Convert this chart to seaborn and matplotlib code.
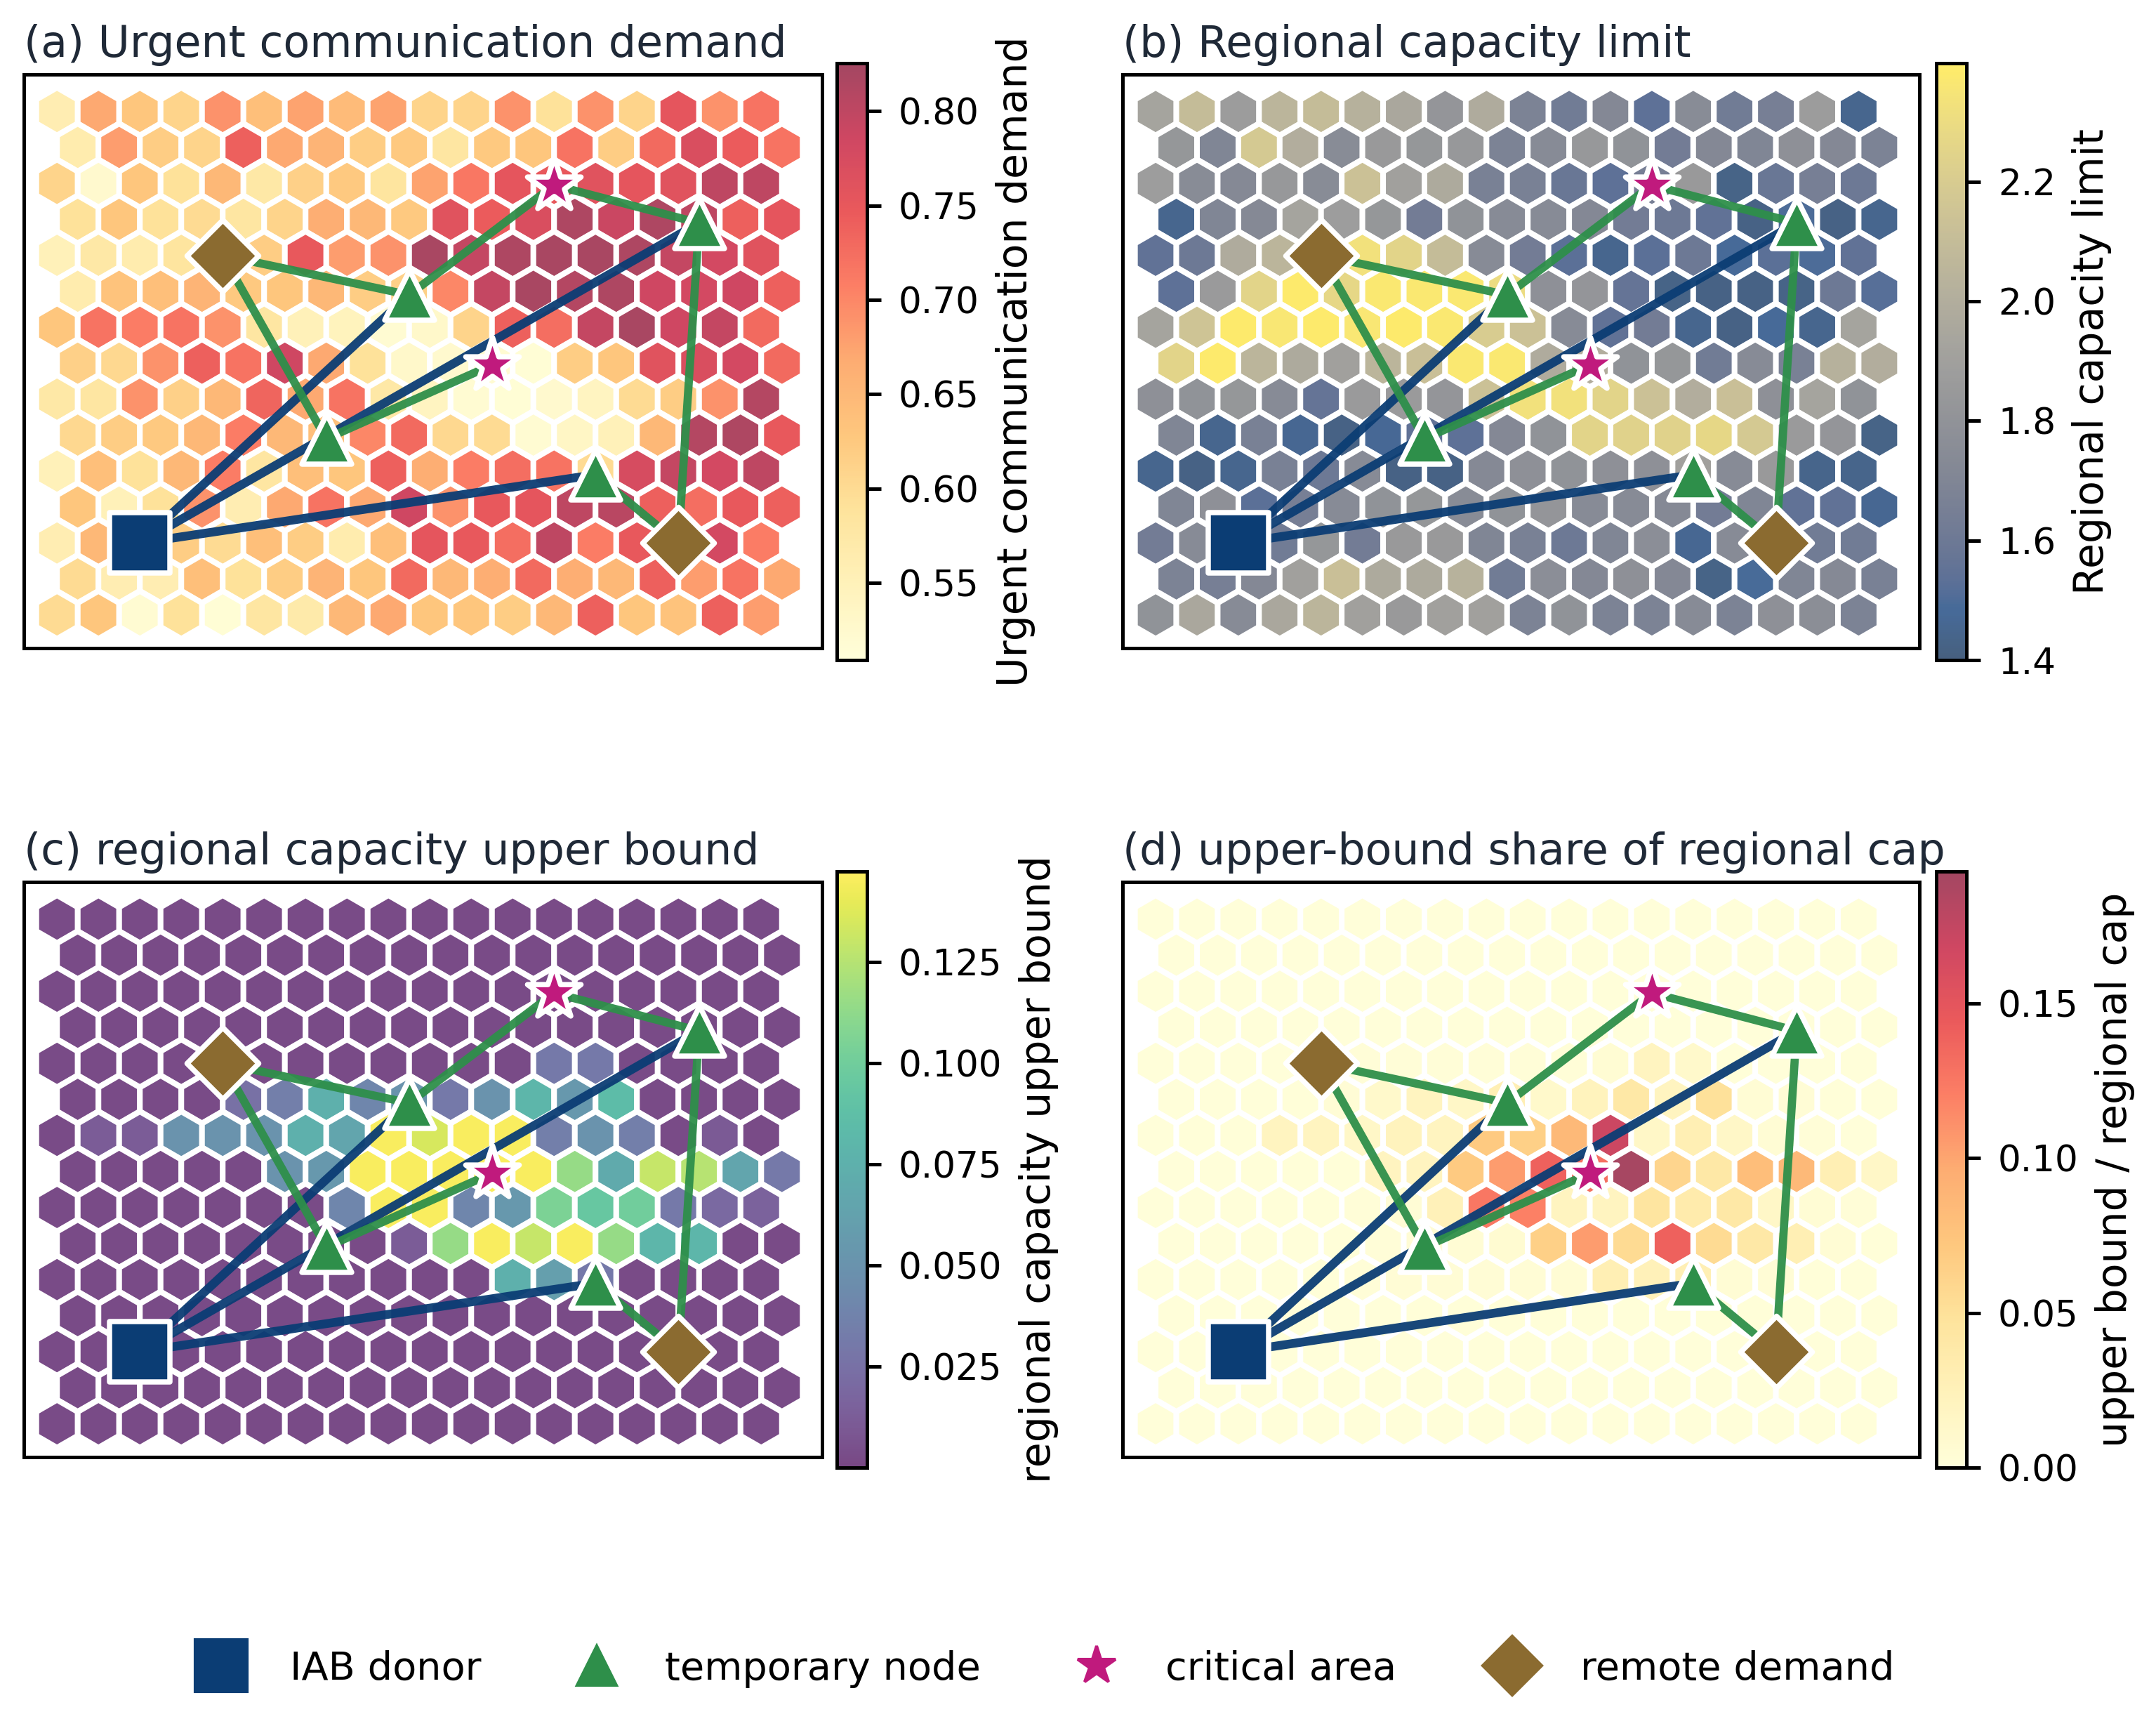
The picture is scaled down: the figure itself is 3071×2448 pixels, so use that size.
import numpy as np
import pandas as pd
import seaborn as sns
import matplotlib
matplotlib.use("Agg")
import matplotlib.pyplot as plt
from matplotlib.cm import ScalarMappable
from matplotlib.colors import ListedColormap, Normalize
from matplotlib.lines import Line2D

demand_rows = [
    [.56,.67,.63,.61,.69,.64,.675,.645,.675,.61,.61,.69,.59,.69,.61,.755,.69,.72],
    [.565,.68,.62,.61,.74,.67,.655,.62,.625,.58,.625,.63,.72,.62,.73,.77,.745,.72],
    [.61,.525,.63,.59,.65,.575,.615,.625,.585,.675,.715,.755,.75,.76,.755,.76,.80,.80],
    [.59,.63,.59,.60,.58,.61,.665,.65,.625,.76,.745,.77,.815,.79,.815,.80,.74,.755],
    [.55,.575,.565,.585,.60,.62,.75,.68,.69,.82,.795,.815,.82,.82,.815,.795,.78,.76],
    [.565,.635,.64,.655,.625,.63,.65,.62,.615,.70,.795,.82,.81,.815,.785,.78,.785,.74],
    [.63,.72,.71,.72,.69,.58,.55,.545,.52,.53,.61,.74,.725,.795,.82,.785,.795,.73],
    [.615,.605,.69,.74,.72,.785,.67,.59,.53,.525,.52,.515,.62,.63,.76,.77,.78,.73],
    [.575,.58,.69,.615,.65,.735,.67,.72,.575,.54,.52,.515,.525,.54,.60,.62,.69,.81],
    [.605,.62,.625,.65,.71,.65,.64,.70,.73,.605,.60,.52,.535,.55,.65,.81,.815,.75],
    [.55,.64,.59,.65,.71,.58,.64,.63,.74,.665,.71,.725,.72,.60,.775,.795,.78,.80],
    [.63,.55,.59,.69,.56,.67,.72,.67,.785,.69,.75,.755,.80,.805,.74,.725,.75,.74],
    [.56,.65,.60,.62,.60,.64,.62,.565,.64,.755,.75,.725,.80,.71,.75,.75,.78,.71],
    [.60,.56,.56,.64,.59,.62,.655,.63,.73,.65,.665,.73,.665,.65,.74,.68,.72,.67],
    [.60,.63,.52,.59,.515,.58,.57,.65,.67,.63,.63,.62,.65,.74,.63,.635,.74,.68],
]
capacity_rows = [
    [1.93,2.1,1.87,2.05,2.1,2.02,1.95,1.82,1.98,1.68,1.62,1.72,1.54,1.75,1.62,1.65,1.87,1.45],
    [1.83,1.7,2.18,2.0,1.75,1.85,1.83,1.84,1.68,1.74,1.84,1.8,1.63,1.72,1.7,1.78,1.72,1.68],
    [1.88,1.75,1.73,1.84,1.75,2.13,1.9,1.97,1.66,1.66,1.58,1.54,1.65,1.85,1.43,1.58,1.65,1.6],
    [1.45,1.7,1.73,1.93,1.88,1.83,1.63,1.8,1.74,1.74,1.72,1.63,1.6,1.55,1.42,1.5,1.42,1.45],
    [1.55,1.6,1.98,2.05,2.15,2.33,2.25,2.1,1.74,1.63,1.53,1.45,1.53,1.6,1.48,1.53,1.5,1.55],
    [1.54,1.86,2.25,2.38,2.27,2.37,2.37,2.37,2.3,1.78,1.82,1.56,1.43,1.42,1.42,1.43,1.6,1.52],
    [1.93,2.15,2.38,2.36,2.38,2.36,2.38,2.37,2.2,2.13,1.74,1.55,1.63,1.45,1.42,1.48,1.45,1.93],
    [2.25,2.38,2.05,1.97,1.9,2.05,2.12,2.37,2.37,1.98,2.0,1.8,1.83,1.62,1.74,1.66,2.02,2.0],
    [1.78,1.8,1.83,1.74,1.56,1.86,1.86,1.82,2.13,2.33,2.33,2.25,2.13,2.0,2.12,1.78,1.93,1.8],
    [1.7,1.45,1.66,1.46,1.42,1.47,1.55,1.54,1.72,1.8,2.25,2.24,2.24,2.27,2.18,1.86,1.82,1.43],
    [1.45,1.42,1.45,1.66,1.6,1.74,1.42,1.42,1.73,1.78,1.8,1.78,1.78,1.9,1.74,1.85,1.44,1.44],
    [1.7,1.78,1.53,1.65,1.74,1.8,1.83,1.75,1.8,1.82,1.74,1.74,1.73,1.63,1.7,1.55,1.55,1.46],
    [1.63,1.74,1.6,1.62,1.83,1.63,1.85,1.85,1.7,1.66,1.6,1.7,1.77,1.46,1.74,1.6,1.62,1.62],
    [1.68,1.65,1.72,1.9,2.12,1.97,1.97,2.03,1.62,1.77,1.72,1.78,1.72,1.43,1.49,1.7,1.73,1.66],
    [1.8,1.95,1.74,1.95,2.05,1.9,1.85,1.9,1.9,1.68,1.8,1.68,1.68,1.74,1.68,1.78,1.76,1.68],
]
upper_rows = [
    [.002,.002,.002,.002,.002,.002,.002,.002,.002,.002,.002,.002,.002,.002,.002,.002,.002,.002],
    [.002,.002,.002,.002,.002,.002,.002,.002,.002,.002,.002,.002,.002,.002,.002,.002,.002,.002],
    [.002,.002,.002,.002,.002,.002,.002,.002,.002,.002,.002,.002,.002,.002,.002,.002,.002,.002],
    [.002,.002,.002,.002,.002,.002,.002,.002,.002,.002,.002,.002,.002,.002,.002,.002,.002,.002],
    [.002,.002,.002,.002,.002,.002,.002,.002,.002,.002,.002,.002,.03,.03,.002,.002,.002,.002],
    [.002,.002,.002,.002,.025,.035,.075,.04,.05,.03,.05,.08,.055,.085,.002,.002,.002,.002],
    [.002,.012,.012,.05,.05,.05,.075,.065,.146,.135,.146,.146,.035,.05,.035,.002,.01,.002],
    [.002,.002,.002,.002,.002,.05,.055,.146,.146,.146,.146,.146,.115,.07,.13,.125,.065,.03],
    [.002,.002,.002,.002,.002,.002,.002,.04,.146,.146,.04,.055,.105,.095,.1,.03,.02,.015],
    [.002,.002,.002,.002,.002,.002,.002,.002,.012,.115,.146,.13,.146,.115,.08,.08,.002,.002],
    [.002,.002,.002,.002,.002,.002,.002,.002,.002,.002,.002,.075,.06,.03,.002,.002,.002,.002],
    [.002,.002,.002,.002,.002,.002,.002,.002,.002,.002,.002,.002,.002,.002,.002,.002,.002,.002],
    [.002,.002,.002,.002,.002,.002,.002,.002,.002,.002,.002,.002,.002,.002,.002,.002,.002,.002],
    [.002,.002,.002,.002,.002,.002,.002,.002,.002,.002,.002,.002,.002,.002,.002,.002,.002,.002],
    [.002,.002,.002,.002,.002,.002,.002,.002,.002,.002,.002,.002,.002,.002,.002,.002,.002,.002],
]
share_rows = [
    [.001,.001,.001,.001,.001,.001,.001,.001,.001,.001,.001,.001,.001,.001,.001,.001,.001,.001],
    [.001,.001,.001,.001,.001,.001,.001,.001,.001,.001,.001,.001,.001,.001,.001,.001,.001,.001],
    [.001,.001,.001,.001,.001,.001,.001,.001,.001,.001,.001,.001,.001,.001,.001,.001,.001,.001],
    [.001,.001,.001,.001,.001,.001,.001,.001,.001,.001,.001,.001,.001,.001,.001,.001,.001,.001],
    [.001,.001,.001,.001,.001,.003,.003,.003,.003,.003,.003,.006,.02,.012,.002,.001,.001,.001],
    [.001,.001,.001,.002,.004,.012,.02,.015,.03,.012,.022,.04,.02,.05,.005,.004,.002,.001],
    [.001,.002,.002,.02,.02,.015,.022,.02,.07,.065,.085,.17,.015,.03,.015,.005,.003,.001],
    [.001,.001,.002,.002,.002,.02,.02,.07,.105,.14,.13,.19,.06,.04,.08,.085,.03,.015],
    [.001,.001,.001,.002,.002,.003,.004,.025,.125,.12,.02,.02,.045,.035,.04,.015,.005,.003],
    [.001,.001,.001,.001,.002,.003,.004,.005,.007,.065,.105,.055,.14,.055,.04,.03,.005,.002],
    [.001,.001,.001,.001,.002,.003,.004,.004,.004,.004,.005,.03,.025,.03,.005,.004,.002,.001],
    [.001,.001,.001,.001,.001,.001,.002,.002,.002,.002,.002,.002,.002,.002,.002,.001,.001,.001],
    [.001,.001,.001,.001,.001,.001,.001,.001,.001,.001,.001,.001,.001,.001,.001,.001,.001,.001],
    [.001,.001,.001,.001,.001,.001,.001,.001,.001,.001,.001,.001,.001,.001,.001,.001,.001,.001],
    [.001,.001,.001,.001,.001,.001,.001,.001,.001,.001,.001,.001,.001,.001,.001,.001,.001,.001],
]

panel_titles = ["(a) Urgent communication demand", "(b) Regional capacity limit",
                "(c) regional capacity upper bound", "(d) upper-bound share of regional cap"]
cbar_labels = ["Urgent communication demand", "Regional capacity limit",
               "regional capacity upper bound", "upper bound / regional cap"]
cmaps = ["YlOrRd", "cividis", "viridis", "YlOrRd"]
ranges = [(0.509, 0.8255), (1.4, 2.398), (0.0, 0.1474), (0.0, 0.1927)]
cbar_ticks = [[0.55, 0.60, 0.65, 0.70, 0.75, 0.80],
              [1.4, 1.6, 1.8, 2.0, 2.2],
              [0.025, 0.050, 0.075, 0.100, 0.125],
              [0.00, 0.05, 0.10, 0.15]]
cbar_ticklabels = [["0.55", "0.60", "0.65", "0.70", "0.75", "0.80"],
                   ["1.4", "1.6", "1.8", "2.0", "2.2"],
                   ["0.025", "0.050", "0.075", "0.100", "0.125"],
                   ["0.00", "0.05", "0.10", "0.15"]]

# nodes in grid units (column, row)
donor_x, donor_y = [2.0], [12.0]
temp_x, temp_y = [6.5, 8.5, 15.5, 13.0], [9.1, 5.1, 3.1, 10.1]
crit_x, crit_y = [12.0, 10.5], [2.05, 7.05]
remote_x, remote_y = [4.0, 15.0], [4.0, 12.0]

blue_links = [((2, 12), (15.5, 3.1)), ((2, 12), (8.5, 5.1)), ((2, 12), (13, 10.1))]
green_links = [((4, 4), (8.5, 5.1)), ((4, 4), (6.5, 9.1)), ((6.5, 9.1), (10.5, 7.05)),
               ((8.5, 5.1), (12, 2.05)), ((12, 2.05), (15.5, 3.1)),
               ((15.5, 3.1), (15, 12)), ((13, 10.1), (15, 12))]

NAVY = "#0b3d74"
GREEN = "#2e8f4a"
MAGENTA = "#c01a7d"
BROWN = "#8b6b30"
TITLE_COLOR = "#1f2937"
ROW_H = np.sqrt(3) / 2

W, H = 3071, 2448
sns.set_theme(style="white", rc={"font.family": "DejaVu Sans"})
fig = plt.figure(figsize=(W / 300, H / 300), dpi=300)


def add_px(x0, y0, x1, y1):
    return fig.add_axes([x0 / W, 1 - y1 / H, (x1 - x0) / W, (y1 - y0) / H])


axes_px = [(34, 106, 1171, 923), (1599, 106, 2734, 923), (34, 1256, 1171, 2075), (1599, 1256, 2734, 2075)]
cbar_px = [(1192, 90, 1235, 940), (2758, 90, 2801, 940), (1192, 1241, 1235, 2090), (2758, 1241, 2801, 2090)]

panels = [demand_rows, capacity_rows, upper_rows, share_rows]
for i in range(4):
    ax = add_px(*axes_px[i])
    rows = []
    for r, vals in enumerate(panels[i]):
        for c, v in enumerate(vals):
            rows.append({"x": c + 0.5 * (r % 2), "y": -r * ROW_H, "v": v})
    df = pd.DataFrame(rows)

    base = plt.get_cmap(cmaps[i])(np.linspace(0, 1, 256))
    base[:, 3] = 0.72
    cmap = ListedColormap(base)
    sns.scatterplot(data=df, x="x", y="y", hue="v", palette=cmap, hue_norm=ranges[i], marker="h",
                    s=266, edgecolor="white", linewidth=1.9, legend=False, ax=ax, zorder=1)

    for a, b in blue_links:
        ax.plot([a[0], b[0]], [-a[1] * ROW_H, -b[1] * ROW_H], color=NAVY, lw=3.0, alpha=0.95, zorder=2,
                solid_capstyle="round")
    for a, b in green_links:
        ax.plot([a[0], b[0]], [-a[1] * ROW_H, -b[1] * ROW_H], color=GREEN, lw=2.8, alpha=0.95, zorder=2,
                solid_capstyle="round")

    node_kw = dict(edgecolor="white", linewidth=1.8, legend=False, ax=ax, zorder=3, clip_on=False)
    sns.scatterplot(x=donor_x, y=-np.array(donor_y) * ROW_H, marker="s", s=420, color=NAVY, **node_kw)
    sns.scatterplot(x=temp_x, y=-np.array(temp_y) * ROW_H, marker="^", s=290, color=GREEN, **node_kw)
    sns.scatterplot(x=crit_x, y=-np.array(crit_y) * ROW_H, marker="*", s=370, color=MAGENTA, **node_kw)
    sns.scatterplot(x=remote_x, y=-np.array(remote_y) * ROW_H, marker="D", s=300, color=BROWN, **node_kw)

    ax.set_xlim(-0.8, 18.47)
    ax.set_ylim(-14 * ROW_H - 0.80, 0.893)
    ax.set_xticks([])
    ax.set_yticks([])
    ax.set_xlabel("")
    ax.set_ylabel("")
    for sp in ax.spines.values():
        sp.set_visible(True)
        sp.set_color("black")
        sp.set_linewidth(1.2)
    ax.set_title(panel_titles[i], loc="left", fontsize=14.85, color=TITLE_COLOR, pad=6)

    cax = add_px(*cbar_px[i])
    sm = ScalarMappable(norm=Normalize(*ranges[i]), cmap=cmap)
    cb = fig.colorbar(sm, cax=cax)
    cb.set_ticks(cbar_ticks[i])
    cb.set_ticklabels(cbar_ticklabels[i])
    cb.set_label(cbar_labels[i], fontsize=14, color="black", labelpad=5.5)
    cb.ax.tick_params(labelsize=12.4, length=4.8, width=1.2, color="black", right=True, labelcolor="black", pad=6)
    cb.outline.set_edgecolor("black")
    cb.outline.set_linewidth(1.2)

handles = [
    Line2D([], [], ls="", marker="s", color=NAVY, markersize=17.8),
    Line2D([], [], ls="", marker="^", color=GREEN, markersize=13.5),
    Line2D([], [], ls="", marker="*", color=MAGENTA, markersize=13.5),
    Line2D([], [], ls="", marker="D", color=BROWN, markersize=14.3),
]
fig.legend(handles, ["IAB donor", "temporary node", "critical area", "remote demand"], loc="center",
           bbox_to_anchor=(1479 / W, 1 - 2377 / H), ncol=4, frameon=False, fontsize=13.4,
           handletextpad=0.75, columnspacing=1.95, labelcolor="black")

fig.savefig("out.png", dpi=300)
